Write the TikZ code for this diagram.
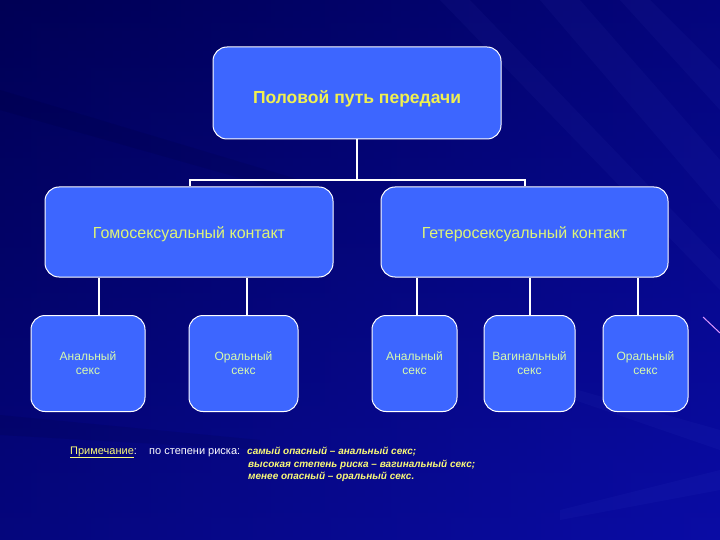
\documentclass[tikz,border=0pt]{standalone}
\usepackage{fontspec}
\setmainfont{Liberation Sans}
\usetikzlibrary{positioning}
\definecolor{bgdark}{RGB}{0,0,85}
\definecolor{bglight}{RGB}{10,12,165}
\definecolor{boxfill}{RGB}{61,102,255}
\definecolor{topyellow}{RGB}{240,240,80}
\definecolor{midtext}{RGB}{222,245,120}
\definecolor{lowtext}{RGB}{215,250,175}
\definecolor{noteyellow}{RGB}{250,250,120}
\definecolor{streak}{RGB}{120,140,255}
\definecolor{pinkline}{RGB}{220,150,255}
\tikzset{
  boxbase/.style={draw=white, line width=1pt, fill=boxfill, rounded corners=14pt, align=center, inner sep=2pt},
  topbox/.style={boxbase, minimum width=288pt, minimum height=92pt, text=topyellow, font=\fontsize{17.5}{20}\selectfont\bfseries, text height=22pt, text depth=0pt},
  midbox/.style={boxbase, minimum width=288pt, minimum height=90pt, text=midtext, font=\fontsize{16}{19}\selectfont, text height=14pt, text depth=0pt},
  lowbox/.style={boxbase, minimum height=96pt, text=lowtext, font=\fontsize{12}{14}\selectfont},
  conn/.style={draw=white, line width=2pt},
  notetxt/.style={anchor=base west, inner sep=0pt, font=\fontsize{11}{13}\selectfont},
  notebi/.style={notetxt, text=noteyellow, font=\fontsize{10}{12}\selectfont\bfseries\itshape},
  streakfill/.style={fill=streak, opacity=0.045}
}
\begin{document}
\begin{tikzpicture}[x=1pt,y=-1pt]
\useasboundingbox (0,0) rectangle (720,540);
% background
\shade[shading angle=135, left color=bgdark, right color=bglight] (0,0) rectangle (720,540);
\shade[top color=bgdark, bottom color=bglight, opacity=0.5] (0,0) rectangle (720,540);
\fill[streakfill] (540,0) -- (580,0) -- (720,160) -- (720,210) -- cycle;
\fill[streakfill] (620,0) -- (650,0) -- (720,70) -- (720,110) -- cycle;
\fill[streakfill] (440,0) -- (470,0) -- (720,260) -- (720,290) -- cycle;
\fill[streakfill] (560,385) -- (720,430) -- (720,450) -- (560,395) -- cycle;
\fill[streakfill] (560,510) -- (720,470) -- (720,490) -- (560,520) -- cycle;
\fill[black, opacity=0.07] (0,90) -- (300,180) -- (300,195) -- (0,110) -- cycle;
\fill[black, opacity=0.07] (0,415) -- (260,440) -- (260,450) -- (0,435) -- cycle;
\draw[pinkline, line width=1pt] (703,317) -- (720,333);
% nodes
\node[topbox] (top) at (357,93) {Половой путь передачи};
\node[midbox] (l2a) at (189,232) {Гомосексуальный контакт};
\node[midbox, minimum width=287pt] (l2b) at (524.5,232) {Гетеросексуальный контакт};
\node[lowbox, minimum width=114pt] (c1) at (88,363.5) {Анальный\\секс};
\node[lowbox, minimum width=109pt] (c2) at (243.5,363.5) {Оральный\\секс};
\node[lowbox, minimum width=85pt] (c3) at (414.5,363.5) {Анальный\\секс};
\node[lowbox, minimum width=91pt] (c4) at (529.5,363.5) {Вагинальный\\секс};
\node[lowbox, minimum width=85pt] (c5) at (645.5,363.5) {Оральный\\секс};
% connectors
\coordinate (j) at (357,180);
\draw[conn] (top.south) -- (j);
\draw[conn] (l2a.north -| 190,0) |- (j);
\draw[conn] (l2b.north -| 525,0) |- (j);
\draw[conn] (l2a.south -| 99,0) -- (c1.north -| 99,0);
\draw[conn] (l2a.south -| 247,0) -- (c2.north -| 247,0);
\draw[conn] (l2b.south -| 417,0) -- (c3.north -| 417,0);
\draw[conn] (l2b.south -| 530,0) -- (c4.north -| 530,0);
\draw[conn] (l2b.south -| 638,0) -- (c5.north -| 638,0);
% note
\node[notetxt, text=noteyellow] (n1) at (70,454) {\underline{Примечание}\textcolor{white}{:}};
\node[notetxt, text=white] (n2) at (149,454) {по степени риска:};
\node[notebi] (n3) at (247,454) {самый опасный – анальный секс;};
\node[notebi] (n4) at (248,467) {высокая степень риска – вагинальный секс;};
\node[notebi] (n5) at (248,479) {менее опасный – оральный секс.};
\end{tikzpicture}
\end{document}
